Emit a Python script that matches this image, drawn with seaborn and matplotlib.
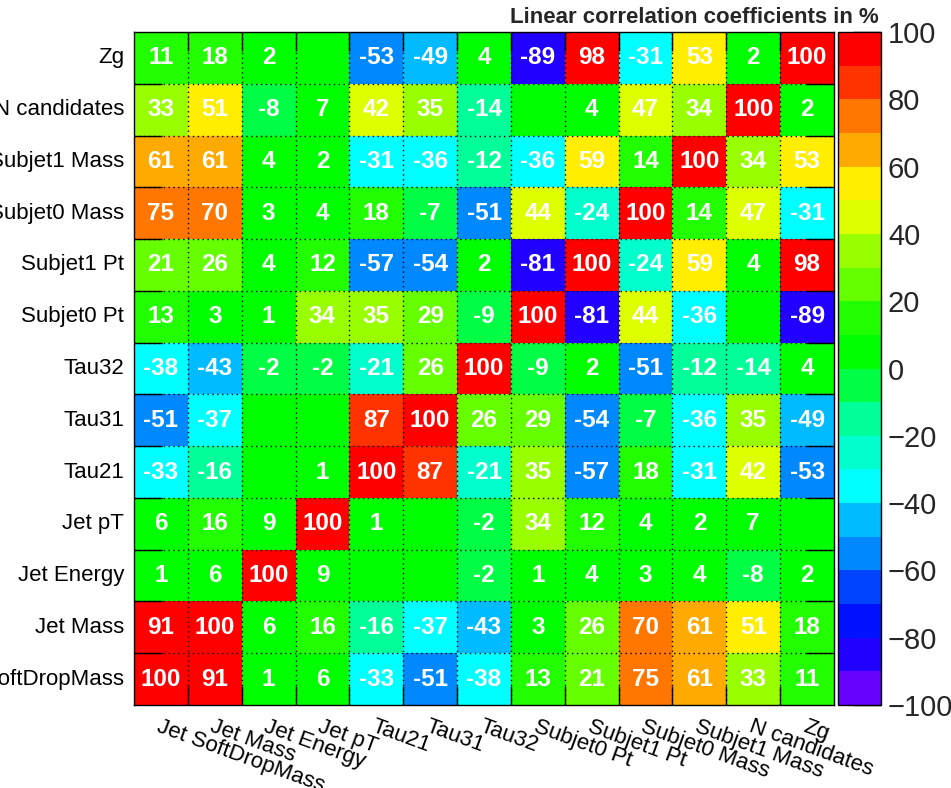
import numpy as np
import pandas as pd
import matplotlib
matplotlib.use("Agg")
import matplotlib.pyplot as plt
from matplotlib.colors import ListedColormap
import seaborn as sns

# ---------------------------------------------------------------------------
# Data: linear correlation coefficients (in %), one row per variable
# ---------------------------------------------------------------------------
VARIABLES = [
    "Jet SoftDropMass", "Jet Mass", "Jet Energy", "Jet pT", "Tau21", "Tau31",
    "Tau32", "Subjet0 Pt", "Subjet1 Pt", "Subjet0 Mass", "Subjet1 Mass",
    "N candidates", "Zg",
]

row_softdropmass = [100, 91, 1, 6, -33, -51, -38, 13, 21, 75, 61, 33, 11]
row_jet_mass     = [91, 100, 6, 16, -16, -37, -43, 3, 26, 70, 61, 51, 18]
row_jet_energy   = [1, 6, 100, 9, 0, 0, -2, 1, 4, 3, 4, -8, 2]
row_jet_pt       = [6, 16, 9, 100, 1, 0, -2, 34, 12, 4, 2, 7, 0]
row_tau21        = [-33, -16, 0, 1, 100, 87, -21, 35, -57, 18, -31, 42, -53]
row_tau31        = [-51, -37, 0, 0, 87, 100, 26, 29, -54, -7, -36, 35, -49]
row_tau32        = [-38, -43, -2, -2, -21, 26, 100, -9, 2, -51, -12, -14, 4]
row_subjet0_pt   = [13, 3, 1, 34, 35, 29, -9, 100, -81, 44, -36, 0, -89]
row_subjet1_pt   = [21, 26, 4, 12, -57, -54, 2, -81, 100, -24, 59, 4, 98]
row_subjet0_mass = [75, 70, 3, 4, 18, -7, -51, 44, -24, 100, 14, 47, -31]
row_subjet1_mass = [61, 61, 4, 2, -31, -36, -12, -36, 59, 14, 100, 34, 53]
row_ncandidates  = [33, 51, -8, 7, 42, 35, -14, 0, 4, 47, 34, 100, 2]
row_zg           = [11, 18, 2, 0, -53, -49, 4, -89, 98, -31, 53, 2, 100]

ROWS = [
    row_softdropmass, row_jet_mass, row_jet_energy, row_jet_pt, row_tau21,
    row_tau31, row_tau32, row_subjet0_pt, row_subjet1_pt, row_subjet0_mass,
    row_subjet1_mass, row_ncandidates, row_zg,
]

CBAR_TICKS = [-100, -80, -60, -40, -20, 0, 20, 40, 60, 80, 100]

# ROOT-like 20-level palette, from -100 (bottom) to +100 (top)
PALETTE = [
    "#6600ff", "#2200ff", "#0011ff", "#0044ff", "#0088ff",
    "#00bbff", "#00ffff", "#00ffcc", "#00ff99", "#00ff44",
    "#00ff00", "#22ff00", "#66ff00", "#99ff00", "#ddff00",
    "#ffee00", "#ffaa00", "#ff7700", "#ff3300", "#ff0000",
]

# ---------------------------------------------------------------------------
# Build table (top row = last variable, like the ROOT output)
# ---------------------------------------------------------------------------
df = pd.DataFrame(ROWS, index=VARIABLES, columns=VARIABLES).iloc[::-1]
annot = df.map(lambda v: "" if v == 0 else str(v)).values

sns.set_theme(style="white")
plt.rcParams["font.family"] = ["Liberation Sans", "DejaVu Sans"]

W, H = 951, 788
fig = plt.figure(figsize=(W / 100, H / 100), dpi=100)
ax = fig.add_axes([134 / W, (H - 705) / H, 700 / W, 673 / H])
cax = fig.add_axes([838 / W, (H - 705) / H, 43 / W, 673 / H])

# nudge values that sit exactly on a band edge into the upper band
plot_vals = df.astype(float) + 0.01

sns.heatmap(
    plot_vals, ax=ax, cbar_ax=cax,
    cmap=ListedColormap(PALETTE), vmin=-100, vmax=100,
    annot=annot, fmt="",
    annot_kws={"color": "white", "fontsize": 17.5, "fontweight": "bold"},
    cbar_kws={"ticks": CBAR_TICKS},
)

# dotted cell grid + inner ticks at cell boundaries
n = len(VARIABLES)
ax.set_xticks(np.arange(1, n), minor=True)
ax.set_yticks(np.arange(1, n), minor=True)
ax.grid(which="minor", color="black", linestyle=(0, (1, 2.5)), linewidth=1.0)
ax.set_axisbelow(False)
ax.tick_params(which="major", length=0)
ax.tick_params(axis="x", which="minor", direction="in", length=14, width=1,
               color="black", top=True, bottom=True)
ax.tick_params(axis="y", which="minor", direction="in", length=20, width=1,
               color="black", left=True, right=True)
for sp in ax.spines.values():
    sp.set_visible(True)
    sp.set_color("black")
    sp.set_linewidth(1.0)

ax.set_xlabel("")
ax.set_ylabel("")
ax.tick_params(axis="y", which="major", labelsize=16, pad=7, labelcolor="black")
ax.tick_params(axis="x", which="major", labelsize=16, pad=8, labelcolor="black")
plt.setp(ax.get_yticklabels(), rotation=0, ha="right")
for lbl in ax.get_xticklabels():
    lbl.set_rotation(-20)
    lbl.set_ha("left")
    lbl.set_va("top")
    lbl.set_rotation_mode("anchor")

# colour bar
cax.tick_params(direction="in", length=20, width=1, color="black",
                labelsize=21, pad=5, right=True, left=False)
cbar = ax.collections[0].colorbar
cbar.outline.set_edgecolor("black")
cbar.outline.set_linewidth(1.0)

fig.text(879 / W, 1 - 23 / H, "Linear correlation coefficients in %",
         ha="right", va="baseline", fontsize=16, fontweight="bold")

fig.savefig("out.png", dpi=100)
